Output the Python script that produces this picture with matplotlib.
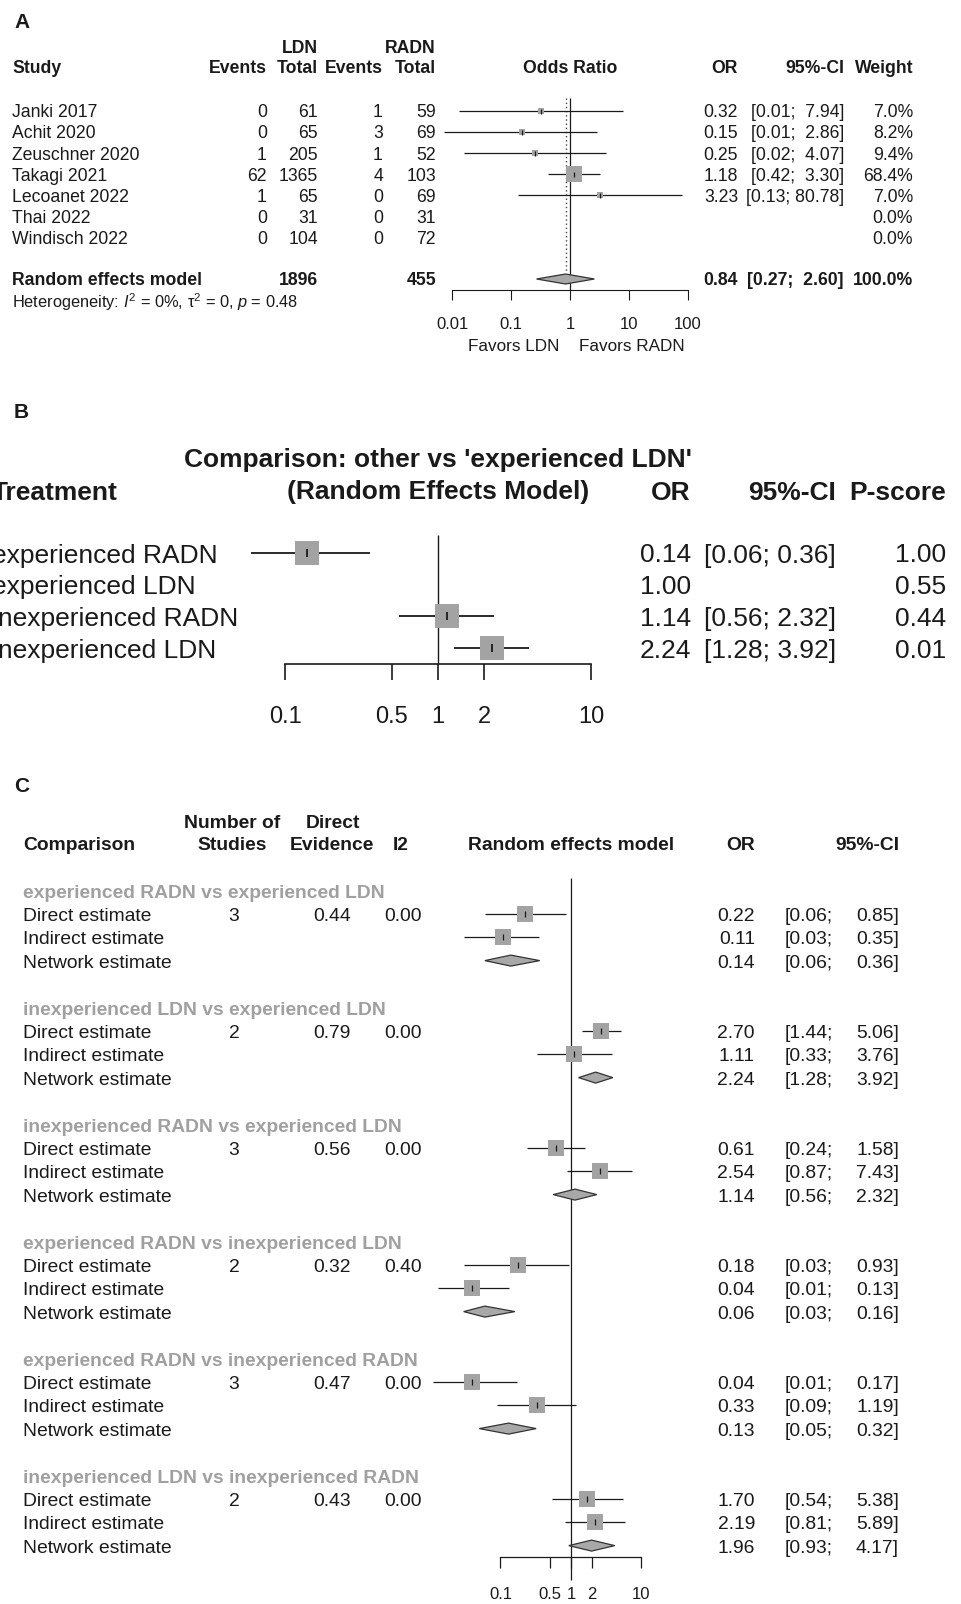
import numpy as np
import matplotlib
matplotlib.use("Agg")
import matplotlib.pyplot as plt
from matplotlib.ticker import NullLocator

plt.rcParams['font.family'] = ['Liberation Sans', 'DejaVu Sans']
plt.rcParams['mathtext.fontset'] = 'custom'
plt.rcParams['mathtext.rm'] = 'Liberation Sans'
plt.rcParams['mathtext.it'] = 'Liberation Sans:italic'

# ---- panel A: pairwise meta-analysis LDN vs RADN
studies = ["Janki 2017", "Achit 2020", "Zeuschner 2020", "Takagi 2021",
           "Lecoanet 2022", "Thai 2022", "Windisch 2022"]
ldn_events = [0, 0, 1, 62, 1, 0, 0]
ldn_total = [61, 65, 205, 1365, 65, 31, 104]
radn_events = [1, 3, 1, 4, 0, 0, 0]
radn_total = [59, 69, 52, 103, 69, 31, 72]
study_or = [0.32, 0.15, 0.25, 1.18, 3.23, None, None]
study_lo = [0.0128, 0.0072, 0.0155, 0.42, 0.13, None, None]
study_hi = [7.94, 2.86, 4.07, 3.30, 80.78, None, None]
study_weight = [7.0, 8.2, 9.4, 68.4, 7.0, 0.0, 0.0]
pooled_or, pooled_lo, pooled_hi = 0.84, 0.27, 2.60
ldn_sum, radn_sum = 1896, 455
a_ticks = [0.01, 0.1, 1, 10, 100]
a_labels = ["0.01", "0.1", "1", "10", "100"]

# ---- panel B: network estimates vs experienced LDN
treatments = ["experienced RADN", "experienced LDN", "inexperienced RADN", "inexperienced LDN"]
b_or = [0.14, 1.00, 1.14, 2.24]
b_lo = [0.06, None, 0.56, 1.28]
b_hi = [0.36, None, 2.32, 3.92]
p_score = [1.00, 0.55, 0.44, 0.01]
b_ticks = [0.1, 0.5, 1, 2, 10]
b_labels = ["0.1", "0.5", "1", "2", "10"]

# ---- panel C: direct / indirect / network split
comparisons = ["experienced RADN vs experienced LDN",
               "inexperienced LDN vs experienced LDN",
               "inexperienced RADN vs experienced LDN",
               "experienced RADN vs inexperienced LDN",
               "experienced RADN vs inexperienced RADN",
               "inexperienced LDN vs inexperienced RADN"]
estimate_names = ["Direct estimate", "Indirect estimate", "Network estimate"]
n_studies = [3, 2, 3, 2, 3, 2]
direct_evidence = [0.44, 0.79, 0.56, 0.32, 0.47, 0.43]
i2 = [0.00, 0.00, 0.00, 0.40, 0.00, 0.00]
c_or = [[0.22, 0.11, 0.14], [2.70, 1.11, 2.24], [0.61, 2.54, 1.14],
        [0.18, 0.04, 0.06], [0.04, 0.33, 0.13], [1.70, 2.19, 1.96]]
c_lo = [[0.06, 0.03, 0.06], [1.44, 0.33, 1.28], [0.24, 0.87, 0.56],
        [0.03, 0.013, 0.03], [0.011, 0.09, 0.05], [0.54, 0.81, 0.93]]
c_hi = [[0.85, 0.35, 0.36], [5.06, 3.76, 3.92], [1.58, 7.43, 2.32],
        [0.93, 0.13, 0.16], [0.17, 1.19, 0.32], [5.38, 5.89, 4.17]]
c_ticks = [0.1, 0.5, 1, 2, 10]
c_labels = ["0.1", "0.5", "1", "2", "10"]

W, H = 962, 1604
INK = '#1a1a1a'
SQ = '#a3a3a3'
DIAMOND = '#a8a8a8'
GREY_TXT = '#a0a0a0'

fig = plt.figure(figsize=(W / 100, H / 100), dpi=100)
canvas = fig.add_axes([0, 0, 1, 1])
canvas.set_xlim(0, W)
canvas.set_ylim(H, 0)
canvas.axis('off')


def txt(x, y, s, size, ha='left', bold=False, color=INK):
    # y = middle of the capitals, shifted to the baseline
    canvas.text(x, y + 0.36 * size * 100 / 72, s, fontsize=size, ha=ha, va='baseline',
                fontweight='bold' if bold else 'normal', color=color)


def forest_axes(x_one, decade, left, right, top, bottom):
    ax = fig.add_axes([left / W, 1 - bottom / H, (right - left) / W, (bottom - top) / H])
    ax.set_xscale('log')
    ax.set_xlim(10 ** ((left - x_one) / decade), 10 ** ((right - x_one) / decade))
    ax.set_ylim(bottom, top)
    ax.patch.set_visible(False)
    for s in ['left', 'right', 'top']:
        ax.spines[s].set_visible(False)
    ax.tick_params(left=False, labelleft=False)
    return ax


def set_axis(ax, y, ticks, labels, ticklen, pad, size, lw):
    ax.spines['bottom'].set_position(('data', y))
    ax.spines['bottom'].set_bounds(ticks[0], ticks[-1])
    ax.spines['bottom'].set_linewidth(lw)
    ax.spines['bottom'].set_color(INK)
    ax.set_xticks(ticks, labels)
    ax.xaxis.set_minor_locator(NullLocator())
    ax.tick_params(axis='x', direction='out', length=ticklen, width=lw, pad=pad,
                   labelsize=size, colors=INK)


def study_mark(ax, est, lo, hi, y, side, lw, tick):
    ax.hlines(y, lo, hi, color=INK, lw=lw, clip_on=False, zorder=2)
    ax.plot(est, y, 's', ms=side, color=SQ, mew=0, clip_on=False, zorder=3)
    ax.plot(est, y, '|', ms=tick, color=INK, mew=lw, clip_on=False, zorder=4)


def diamond(ax, est, lo, hi, y, h):
    ax.fill([lo, est, hi, est], [y, y - h, y, y + h], fc=DIAMOND, ec='#333333', lw=0.9,
            clip_on=False, zorder=3)


# ================= A =================
txt(14, 21, "A", 15, bold=True)
sa = 12.7
txt(318, 47, "LDN", sa, ha='right', bold=True)
txt(436, 47, "RADN", sa, ha='right', bold=True)
txt(12, 67, "Study", sa, bold=True)
txt(267, 67, "Events", sa, ha='right', bold=True)
txt(318, 67, "Total", sa, ha='right', bold=True)
txt(383, 67, "Events", sa, ha='right', bold=True)
txt(436, 67, "Total", sa, ha='right', bold=True)
txt(570, 67, "Odds Ratio", sa, ha='center', bold=True)
txt(738, 67, "OR", sa, ha='right', bold=True)
txt(844, 67, "95%-CI", sa, ha='right', bold=True)
txt(913, 67, "Weight", sa, ha='right', bold=True)

axA = forest_axes(570, 58.8, 425, 700, 90, 360)
axA.vlines(1, 98, 290, color=INK, lw=0.9)
axA.vlines(pooled_or, 98, 273, color='#444444', lw=1.0, linestyles=(0, (1, 2)))

for i in range(len(studies)):
    y = 111 + 21.1 * i
    txt(12, y, studies[i], sa)
    txt(267, y, str(ldn_events[i]), sa, ha='right')
    txt(318, y, str(ldn_total[i]), sa, ha='right')
    txt(383, y, str(radn_events[i]), sa, ha='right')
    txt(436, y, str(radn_total[i]), sa, ha='right')
    txt(913, y, "%.1f%%" % study_weight[i], sa, ha='right')
    if study_or[i] is None:
        continue
    txt(738, y, "%.2f" % study_or[i], sa, ha='right')
    txt(844, y, "[%.2f; %5.2f]" % (study_lo[i], study_hi[i]), sa, ha='right')
    side = 12.2 * np.sqrt(study_weight[i] / max(study_weight))
    study_mark(axA, study_or[i], study_lo[i], study_hi[i], y, side, 0.9, 3.6)

y_re = 279
txt(12, y_re, "Random effects model", sa, bold=True)
txt(318, y_re, str(ldn_sum), sa, ha='right', bold=True)
txt(436, y_re, str(radn_sum), sa, ha='right', bold=True)
txt(738, y_re, "%.2f" % pooled_or, sa, ha='right', bold=True)
txt(844, y_re, "[%.2f; %5.2f]" % (pooled_lo, pooled_hi), sa, ha='right', bold=True)
txt(913, y_re, "100.0%", sa, ha='right', bold=True)
diamond(axA, pooled_or, pooled_lo, pooled_hi, y_re, 5)
txt(12, 302, r"Heterogeneity: $I^2$ = 0%, τ$^2$ = 0, $p$ = 0.48", 11.8)

set_axis(axA, 290, a_ticks, a_labels, 7.2, 12.2, 12, 0.8)
txt(514, 345, "Favors LDN", 12.3, ha='center')
txt(632, 345, "Favors RADN", 12.3, ha='center')

# ================= B =================
txt(14, 410, "B", 15, bold=True)
sb = 19
txt(438, 458, "Comparison: other vs 'experienced LDN'", sb, ha='center', bold=True)
txt(438, 490, "(Random Effects Model)", sb, ha='center', bold=True)
txt(-8, 490, "Treatment", sb, bold=True)
txt(691, 490, "OR", sb, ha='right', bold=True)
txt(836, 490, "95%-CI", sb, ha='right', bold=True)
txt(946, 490, "P-score", sb, ha='right', bold=True)

axB = forest_axes(438, 153, 230, 620, 520, 735)
axB.vlines(1, 535, 664, color=INK, lw=1.0)
for i in range(len(treatments)):
    y = 553 + 31.7 * i
    txt(-8, y, treatments[i], sb)
    txt(691, y, "%.2f" % b_or[i], sb, ha='right')
    txt(946, y, "%.2f" % p_score[i], sb, ha='right')
    if b_lo[i] is None:
        continue
    txt(836, y, "[%.2f; %.2f]" % (b_lo[i], b_hi[i]), sb, ha='right')
    study_mark(axB, b_or[i], b_lo[i], b_hi[i], y, 17.3, 1.3, 5.8)

set_axis(axB, 664, b_ticks, b_labels, 11.5, 19, 17, 1.2)

# ================= C =================
txt(14, 785, "C", 15, bold=True)
sc = 13.9
txt(232, 821, "Number of", sc, ha='center', bold=True)
txt(333, 821, "Direct", sc, ha='center', bold=True)
txt(23, 843, "Comparison", sc, bold=True)
txt(232, 843, "Studies", sc, ha='center', bold=True)
txt(332, 843, "Evidence", sc, ha='center', bold=True)
txt(401, 843, "I2", sc, ha='center', bold=True)
txt(571, 843, "Random effects model", sc, ha='center', bold=True)
txt(755, 843, "OR", sc, ha='right', bold=True)
txt(899, 843, "95%-CI", sc, ha='right', bold=True)

axC = forest_axes(571, 70.5, 405, 690, 860, 1604)
axC.vlines(1, 878, 1580, color=INK, lw=0.9)

for g in range(len(comparisons)):
    base = 891 + 117 * g
    txt(23, base, comparisons[g], sc, bold=True, color=GREY_TXT)
    for k in range(3):
        y = base + 23.2 * (k + 1)
        txt(23, y, estimate_names[k], sc)
        txt(755, y, "%.2f" % c_or[g][k], sc, ha='right')
        txt(785, y, "[%.2f;" % c_lo[g][k], sc)
        txt(899, y, "%.2f]" % c_hi[g][k], sc, ha='right')
        if k < 2:
            study_mark(axC, c_or[g][k], c_lo[g][k], c_hi[g][k], y, 12.2, 0.9, 4.3)
        else:
            diamond(axC, c_or[g][k], c_lo[g][k], c_hi[g][k], y, 5.5)
    y_direct = base + 23.2
    txt(234, y_direct, str(n_studies[g]), sc, ha='center')
    txt(351, y_direct, "%.2f" % direct_evidence[g], sc, ha='right')
    txt(422, y_direct, "%.2f" % i2[g], sc, ha='right')

set_axis(axC, 1557, c_ticks, c_labels, 7.9, 13.7, 12, 0.9)

fig.savefig("out.png", dpi=100)
